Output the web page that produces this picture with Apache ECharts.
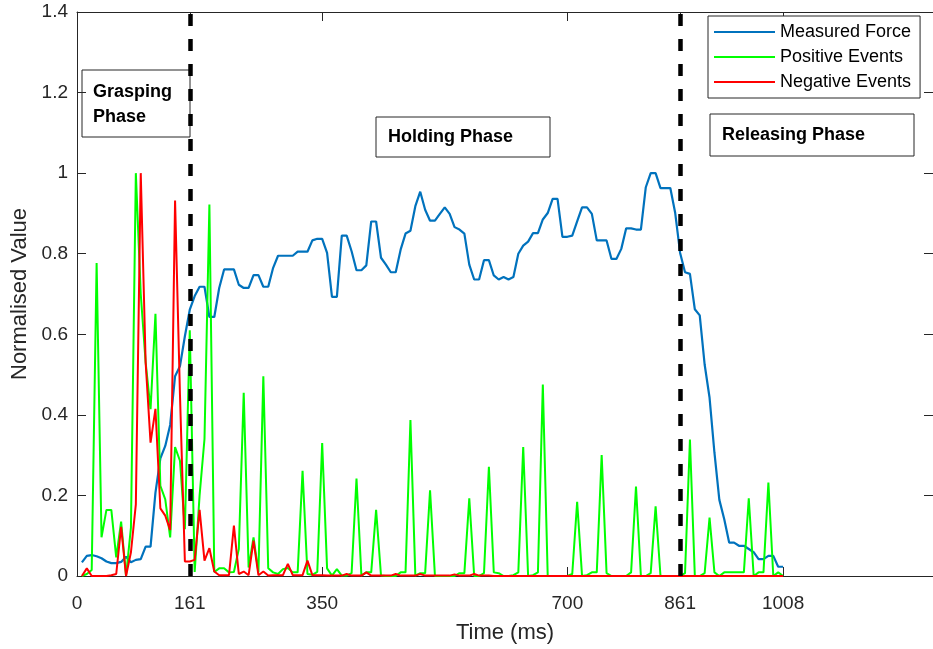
<!DOCTYPE html>
<html>
<head>
<meta charset="utf-8">
<title>Measured Force and Events</title>
<script src="https://cdn.jsdelivr.net/npm/echarts@6/dist/echarts.min.js"></script>
<style>
  html, body { margin: 0; padding: 0; background: #fff; }
  #chart { width: 933px; height: 649px; }
</style>
</head>
<body>
<div id="chart"></div>
<script>
// Sample times (ms)
const timeMs = [
  7, 14, 21, 28, 35, 42, 49, 56, 63, 70, 77, 84, 91, 98, 105, 112, 119, 126, 133, 140,
  147, 154, 161, 168, 175, 182, 189, 196, 203, 210, 217, 224, 231, 238, 245, 252, 259, 266, 273, 280,
  287, 294, 301, 308, 315, 322, 329, 336, 343, 350, 357, 364, 371, 378, 385, 392, 399, 406, 413, 420,
  427, 434, 441, 448, 455, 462, 469, 476, 483, 490, 497, 504, 511, 518, 525, 532, 539, 546, 553, 560,
  567, 574, 581, 588, 595, 602, 609, 616, 623, 630, 637, 644, 651, 658, 665, 672, 679, 686, 693, 700,
  707, 714, 721, 728, 735, 742, 749, 756, 763, 770, 777, 784, 791, 798, 805, 812, 819, 826, 833, 840,
  847, 854, 861, 868, 875, 882, 889, 896, 903, 910, 917, 924, 931, 938, 945, 952, 959, 966, 973, 980,
  987, 994, 1001, 1008
];

// Normalised measured force
const measuredForce = [
  0.034, 0.050, 0.052, 0.049, 0.044, 0.036, 0.032, 0.032, 0.035, 0.048,
  0.034, 0.040, 0.042, 0.073, 0.073, 0.207, 0.292, 0.323, 0.375, 0.496,
  0.521, 0.595, 0.661, 0.695, 0.718, 0.718, 0.643, 0.643, 0.715, 0.761,
  0.761, 0.761, 0.723, 0.715, 0.715, 0.747, 0.747, 0.718, 0.718, 0.765,
  0.795, 0.795, 0.795, 0.795, 0.805, 0.805, 0.805, 0.833, 0.837, 0.837,
  0.802, 0.693, 0.693, 0.845, 0.845, 0.806, 0.759, 0.759, 0.771, 0.880,
  0.880, 0.790, 0.773, 0.754, 0.754, 0.810, 0.850, 0.857, 0.918, 0.954,
  0.909, 0.882, 0.882, 0.899, 0.915, 0.899, 0.866, 0.860, 0.850, 0.773,
  0.736, 0.736, 0.784, 0.784, 0.746, 0.736, 0.742, 0.736, 0.742, 0.800,
  0.820, 0.830, 0.851, 0.851, 0.885, 0.901, 0.936, 0.936, 0.842, 0.842,
  0.845, 0.880, 0.915, 0.915, 0.899, 0.833, 0.833, 0.833, 0.787, 0.787,
  0.812, 0.863, 0.863, 0.860, 0.860, 0.965, 1.000, 1.000, 0.963, 0.963,
  0.963, 0.901, 0.802, 0.754, 0.750, 0.662, 0.647, 0.525, 0.443, 0.306,
  0.189, 0.141, 0.083, 0.083, 0.075, 0.075, 0.067, 0.059, 0.042, 0.042,
  0.050, 0.050, 0.023, 0.023
];

// Normalised positive event counts
const positiveEvents = [
  0.000, 0.005, 0.015, 0.777, 0.096, 0.164, 0.164, 0.046, 0.135, 0.000,
  0.120, 1.000, 0.700, 0.530, 0.414, 0.651, 0.224, 0.190, 0.096, 0.320,
  0.286, 0.116, 0.610, 0.010, 0.200, 0.340, 0.922, 0.010, 0.019, 0.019,
  0.009, 0.010, 0.067, 0.455, 0.021, 0.096, 0.009, 0.496, 0.019, 0.009,
  0.005, 0.017, 0.020, 0.009, 0.009, 0.261, 0.005, 0.003, 0.010, 0.330,
  0.019, 0.001, 0.017, 0.001, 0.001, 0.007, 0.242, 0.001, 0.009, 0.009,
  0.164, 0.001, 0.000, 0.000, 0.000, 0.009, 0.009, 0.387, 0.001, 0.007,
  0.007, 0.213, 0.000, 0.000, 0.000, 0.000, 0.000, 0.007, 0.007, 0.193,
  0.000, 0.000, 0.007, 0.271, 0.009, 0.007, 0.000, 0.000, 0.002, 0.009,
  0.320, 0.000, 0.002, 0.009, 0.475, 0.000, 0.000, 0.000, 0.000, 0.000,
  0.005, 0.184, 0.000, 0.002, 0.009, 0.009, 0.300, 0.007, 0.000, 0.000,
  0.000, 0.000, 0.009, 0.222, 0.000, 0.000, 0.007, 0.173, 0.000, 0.000,
  0.000, 0.000, 0.000, 0.007, 0.339, 0.000, 0.000, 0.007, 0.145, 0.009,
  0.000, 0.009, 0.009, 0.009, 0.009, 0.009, 0.193, 0.000, 0.009, 0.009,
  0.232, 0.000, 0.009, 0.000
];

// Normalised negative event counts
const negativeEvents = [
  0.000, 0.019, 0.000, 0.000, 0.000, 0.000, 0.002, 0.005, 0.122, 0.000,
  0.059, 0.178, 1.000, 0.530, 0.331, 0.415, 0.168, 0.150, 0.114, 0.932,
  0.450, 0.036, 0.036, 0.040, 0.164, 0.038, 0.069, 0.011, 0.002, 0.002,
  0.002, 0.125, 0.005, 0.011, 0.002, 0.088, 0.002, 0.011, 0.001, 0.002,
  0.002, 0.002, 0.030, 0.002, 0.002, 0.002, 0.038, 0.002, 0.002, 0.002,
  0.001, 0.001, 0.001, 0.001, 0.005, 0.001, 0.001, 0.001, 0.009, 0.001,
  0.001, 0.001, 0.001, 0.001, 0.005, 0.001, 0.001, 0.001, 0.001, 0.005,
  0.001, 0.001, 0.001, 0.001, 0.001, 0.001, 0.004, 0.001, 0.001, 0.001,
  0.005, 0.001, 0.001, 0.001, 0.000, 0.000, 0.000, 0.000, 0.000, 0.000,
  0.000, 0.000, 0.000, 0.000, 0.000, 0.000, 0.000, 0.000, 0.000, 0.000,
  0.000, 0.000, 0.000, 0.000, 0.000, 0.000, 0.000, 0.000, 0.000, 0.000,
  0.000, 0.000, 0.000, 0.000, 0.000, 0.000, 0.000, 0.000, 0.000, 0.000,
  0.000, 0.000, 0.000, 0.000, 0.000, 0.000, 0.000, 0.000, 0.000, 0.000,
  0.000, 0.000, 0.000, 0.000, 0.000, 0.000, 0.000, 0.000, 0.000, 0.000,
  0.000, 0.000, 0.000, 0.000
];

// Axis ticks and phase boundaries
const xTickValues = [0, 161, 350, 700, 861, 1008];
const phaseBoundariesMs = [161, 861];
const seriesNames = ['Measured Force', 'Positive Events', 'Negative Events'];
const phaseLabels = ['Grasping\nPhase', 'Holding Phase', 'Releasing Phase'];

const FONT = '"Liberation Sans", Arial, Helvetica, sans-serif';
const AXIS_COLOR = '#262626';

function pairs(values) {
  return values.map((v, i) => [timeMs[i], v]);
}

function phaseBox(x, y, w, h, text, tx, ty) {
  return {
    type: 'group',
    z: 50,
    children: [
      {
        type: 'rect',
        shape: { x: x, y: y, width: w, height: h },
        style: { fill: '#ffffff', stroke: AXIS_COLOR, lineWidth: 1 }
      },
      {
        type: 'text',
        x: tx,
        y: ty,
        style: {
          text: text,
          font: 'bold 18px ' + FONT,
          fill: '#000000',
          lineHeight: 25,
          verticalAlign: 'middle'
        }
      }
    ]
  };
}

const chart = echarts.init(document.getElementById('chart'), null, { renderer: 'canvas' });

const baseAxisX = {
  type: 'value',
  min: 0,
  max: 1222,
  splitLine: { show: false },
  axisLine: { show: true, onZero: false, lineStyle: { color: AXIS_COLOR, width: 1 } }
};
const baseAxisY = {
  type: 'value',
  min: 0,
  max: 1.4,
  interval: 0.2,
  splitLine: { show: false },
  axisLine: { show: true, onZero: false, lineStyle: { color: AXIS_COLOR, width: 1 } }
};

chart.setOption({
  animation: false,
  backgroundColor: '#ffffff',
  grid: { left: 77, top: 12, right: -3, bottom: 72, containLabel: false },
  xAxis: [
    Object.assign({}, baseAxisX, {
      position: 'bottom',
      name: 'Time (ms)',
      nameLocation: 'middle',
      nameGap: 46,
      nameTextStyle: { fontFamily: FONT, fontSize: 22, color: AXIS_COLOR },
      axisTick: { show: true, inside: true, length: 9, customValues: xTickValues, lineStyle: { color: AXIS_COLOR } },
      axisLabel: {
        show: true,
        customValues: xTickValues,
        margin: 18,
        fontFamily: FONT,
        fontSize: 19,
        color: AXIS_COLOR,
        formatter: v => String(v)
      }
    }),
    Object.assign({}, baseAxisX, {
      position: 'top',
      axisTick: { show: true, inside: true, length: 9, customValues: xTickValues, lineStyle: { color: AXIS_COLOR } },
      axisLabel: { show: false }
    })
  ],
  yAxis: [
    Object.assign({}, baseAxisY, {
      position: 'left',
      name: 'Normalised Value',
      nameLocation: 'middle',
      nameGap: 42,
      nameRotate: 90,
      nameTextStyle: { fontFamily: FONT, fontSize: 22, color: AXIS_COLOR },
      axisTick: { show: true, inside: true, length: 9, lineStyle: { color: AXIS_COLOR } },
      axisLabel: { show: true, margin: 9, fontFamily: FONT, fontSize: 19, color: AXIS_COLOR }
    }),
    Object.assign({}, baseAxisY, {
      position: 'right',
      axisTick: { show: true, inside: true, length: 9, lineStyle: { color: AXIS_COLOR } },
      axisLabel: { show: false }
    })
  ],
  legend: {
    data: seriesNames,
    orient: 'vertical',
    left: 708,
    top: 16,
    padding: [7, 9, 7, 6],
    itemGap: 7,
    itemWidth: 61,
    itemHeight: 2,
    icon: 'rect',
    backgroundColor: '#ffffff',
    borderColor: AXIS_COLOR,
    borderWidth: 1,
    borderRadius: 0,
    textStyle: { fontFamily: FONT, fontSize: 18, color: '#000000' }
  },
  series: [
    {
      name: seriesNames[0],
      type: 'line',
      data: pairs(measuredForce),
      showSymbol: false,
      color: '#0072BD',
      lineStyle: { width: 2.2, color: '#0072BD' },
      z: 2
    },
    {
      name: seriesNames[1],
      type: 'line',
      data: pairs(positiveEvents),
      showSymbol: false,
      color: '#00FF00',
      lineStyle: { width: 2, color: '#00FF00' },
      z: 3
    },
    {
      name: seriesNames[2],
      type: 'line',
      data: pairs(negativeEvents),
      showSymbol: false,
      color: '#FF0000',
      lineStyle: { width: 2, color: '#FF0000' },
      z: 4,
      markLine: {
        silent: true,
        symbol: ['none', 'none'],
        label: { show: false },
        lineStyle: { color: '#000000', width: 4.5, type: [12, 13] },
        emphasis: { disabled: true },
        data: phaseBoundariesMs.map(v => ({ xAxis: v }))
      }
    }
  ],
  graphic: [
    phaseBox(82, 70, 108, 67, phaseLabels[0], 93, 105),
    phaseBox(376, 117, 174, 40, phaseLabels[1], 388, 137),
    phaseBox(710, 114, 204, 42, phaseLabels[2], 722, 135)
  ]
});
</script>
</body>
</html>
